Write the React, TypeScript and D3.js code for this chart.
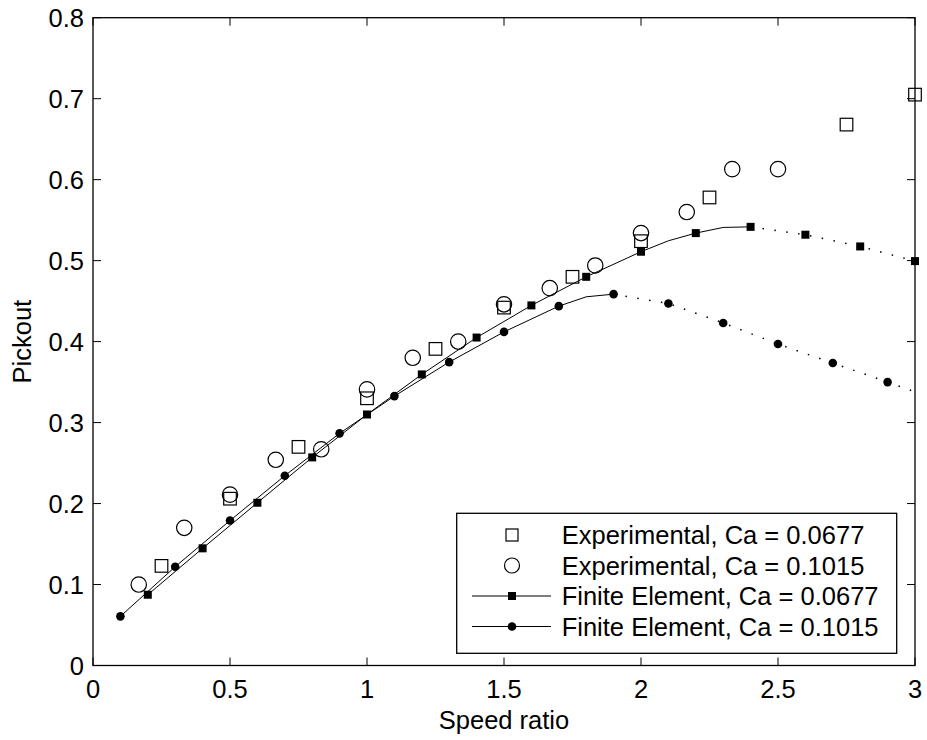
import React from "react";
import * as d3 from "d3";

// Experimental data
const expSqSpeed = [0.25, 0.5, 0.75, 1.0, 1.25, 1.5, 1.75, 2.0, 2.25, 2.75, 3.0];
const expSqPickout = [0.123, 0.206, 0.27, 0.33, 0.391, 0.442, 0.48, 0.524, 0.578, 0.668, 0.705];
const expCiSpeed = [0.167, 0.333, 0.5, 0.667, 0.833, 1.0, 1.167, 1.333, 1.5, 1.667, 1.833, 2.0, 2.167, 2.333, 2.5];
const expCiPickout = [0.1, 0.17, 0.211, 0.254, 0.267, 0.341, 0.38, 0.4, 0.446, 0.466, 0.494, 0.534, 0.56, 0.613, 0.613];

// Finite element data (markers at every other computed point)
const feSqSpeed = [0.2, 0.4, 0.6, 0.8, 1.0, 1.2, 1.4, 1.6, 1.8, 2.0, 2.1, 2.2, 2.3, 2.4, 2.6, 2.8, 3.0];
const feSqPickout = [0.0874, 0.1447, 0.201, 0.257, 0.31, 0.3595, 0.405, 0.4447, 0.48, 0.511, 0.5245, 0.534, 0.541, 0.5417, 0.532, 0.5175, 0.4994];
const feSqMarked = [1, 1, 1, 1, 1, 1, 1, 1, 1, 1, 0, 1, 0, 1, 1, 1, 1];
const feSqSolidEnd = 2.4;

const feCiSpeed = [0.1, 0.3, 0.5, 0.7, 0.9, 1.1, 1.3, 1.5, 1.7, 1.8, 1.9, 2.1, 2.3, 2.5, 2.7, 2.9, 3.0];
const feCiPickout = [0.0607, 0.122, 0.179, 0.2344, 0.2867, 0.3327, 0.3747, 0.412, 0.4438, 0.4553, 0.4586, 0.447, 0.423, 0.397, 0.3735, 0.35, 0.338];
const feCiMarked = [1, 1, 1, 1, 1, 1, 1, 1, 1, 0, 1, 1, 1, 1, 1, 1, 0];
const feCiSolidEnd = 1.9;

const xTicks = [0, 0.5, 1, 1.5, 2, 2.5, 3];
const xTickLabels = ["0", "0.5", "1", "1.5", "2", "2.5", "3"];
const yTicks = [0, 0.1, 0.2, 0.3, 0.4, 0.5, 0.6, 0.7, 0.8];
const yTickLabels = ["0", "0.1", "0.2", "0.3", "0.4", "0.5", "0.6", "0.7", "0.8"];

const legendLabels = [
  "Experimental, Ca = 0.0677",
  "Experimental, Ca = 0.1015",
  "Finite Element, Ca = 0.0677",
  "Finite Element, Ca = 0.1015",
];

const W = 927;
const H = 740;
const L = 93, R = 915, T = 17.7, B = 665.5;
const FS = 25.5;
const FONT = "'Liberation Sans', Arial, Helvetica, sans-serif";

export default function App() {
  const x = d3.scaleLinear().domain([0, 3]).range([L, R]);
  const y = d3.scaleLinear().domain([0, 0.8]).range([B, T]);
  const line = d3.line<[number, number]>().x((d) => x(d[0])).y((d) => y(d[1]));

  const pts = (sx: number[], sy: number[]) => sx.map((s, i) => [s, sy[i]] as [number, number]);
  const sqPts = pts(feSqSpeed, feSqPickout);
  const ciPts = pts(feCiSpeed, feCiPickout);
  const sqSolid = sqPts.filter((p) => p[0] <= feSqSolidEnd + 1e-9);
  const sqDot = sqPts.filter((p) => p[0] >= feSqSolidEnd - 1e-9);
  const ciSolid = ciPts.filter((p) => p[0] <= feCiSolidEnd + 1e-9);
  const ciDot = ciPts.filter((p) => p[0] >= feCiSolidEnd - 1e-9);

  const tick = 8;
  const legX = 456.7, legY = 513.3, legW = 440, legH = 140;
  const rowY = [535, 565.5, 596, 626.5];
  const mX = 512;

  return (
    <svg width={W} height={H} style={{ position: "absolute", left: 0, top: 0, background: "#fff" }} fontFamily={FONT}>
      <rect x={0} y={0} width={W} height={H} fill="#fff" />
      {/* lines */}
      <path d={line(sqSolid) || ""} fill="none" stroke="#000" strokeWidth={1} />
      <path d={line(sqDot) || ""} fill="none" stroke="#000" strokeWidth={1.5} strokeDasharray="1.5 10.5" />
      <path d={line(ciSolid) || ""} fill="none" stroke="#000" strokeWidth={1} />
      <path d={line(ciDot) || ""} fill="none" stroke="#000" strokeWidth={1.5} strokeDasharray="1.5 10.5" />
      {/* FE markers */}
      {sqPts.map((p, i) =>
        feSqMarked[i] ? (
          <rect key={"fs" + i} x={x(p[0]) - 4} y={y(p[1]) - 4} width={8} height={8} fill="#000" />
        ) : null
      )}
      {ciPts.map((p, i) =>
        feCiMarked[i] ? <circle key={"fc" + i} cx={x(p[0])} cy={y(p[1])} r={4.3} fill="#000" /> : null
      )}
      {/* experimental markers */}
      {expSqSpeed.map((s, i) => (
        <rect key={"es" + i} x={x(s) - 6.3} y={y(expSqPickout[i]) - 6.3} width={12.6} height={12.6} fill="none" stroke="#000" strokeWidth={1.2} />
      ))}
      {expCiSpeed.map((s, i) => (
        <circle key={"ec" + i} cx={x(s)} cy={y(expCiPickout[i])} r={7.7} fill="none" stroke="#000" strokeWidth={1.2} />
      ))}
      {/* axes box */}
      <rect x={L} y={T} width={R - L} height={B - T} fill="none" stroke="#000" strokeWidth={1.3} />
      {xTicks.map((t, i) => (
        <g key={"xt" + i}>
          <line x1={x(t)} x2={x(t)} y1={B} y2={B - tick} stroke="#000" strokeWidth={1} />
          <line x1={x(t)} x2={x(t)} y1={T} y2={T + tick} stroke="#000" strokeWidth={1} />
          <text x={x(t)} y={B + 32} fontSize={FS} textAnchor="middle" fill="#000">
            {xTickLabels[i]}
          </text>
        </g>
      ))}
      {yTicks.map((t, i) => (
        <g key={"yt" + i}>
          <line x1={L} x2={L + tick} y1={y(t)} y2={y(t)} stroke="#000" strokeWidth={1} />
          <line x1={R} x2={R - tick} y1={y(t)} y2={y(t)} stroke="#000" strokeWidth={1} />
          <text x={84} y={y(t) + 9} fontSize={FS} textAnchor="end" fill="#000">
            {yTickLabels[i]}
          </text>
        </g>
      ))}
      <text x={(L + R) / 2} y={729} fontSize={FS} textAnchor="middle" fill="#000">
        Speed ratio
      </text>
      <text transform={`translate(31, ${(T + B) / 2}) rotate(-90)`} fontSize={FS} textAnchor="middle" fill="#000">
        Pickout
      </text>
      {/* legend */}
      <rect x={legX} y={legY} width={legW} height={legH} fill="#fff" stroke="#000" strokeWidth={1.3} />
      <rect x={mX - 6} y={rowY[0] - 6} width={12} height={12} fill="none" stroke="#000" strokeWidth={1.2} />
      <circle cx={mX} cy={rowY[1]} r={7.5} fill="none" stroke="#000" strokeWidth={1.2} />
      <line x1={472} x2={551} y1={rowY[2]} y2={rowY[2]} stroke="#000" strokeWidth={1} />
      <rect x={mX - 4} y={rowY[2] - 4} width={8} height={8} fill="#000" />
      <line x1={472} x2={551} y1={rowY[3]} y2={rowY[3]} stroke="#000" strokeWidth={1} />
      <circle cx={mX} cy={rowY[3]} r={4.3} fill="#000" />
      {legendLabels.map((lab, i) => (
        <text key={"lg" + i} x={561.7} y={rowY[i] + 9} fontSize={FS} fill="#000">
          {lab}
        </text>
      ))}
    </svg>
  );
}
